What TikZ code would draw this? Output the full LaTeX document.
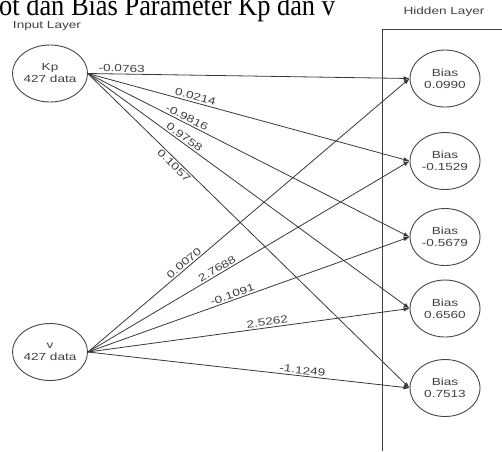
\documentclass[tikz,border=0pt]{standalone}
\usepackage{fontspec}
\setmainfont{Liberation Serif}
\newfontfamily\diagfont[FakeStretch=1.32]{Liberation Sans}
\newfontfamily\headfont[FakeStretch=0.88]{Liberation Serif}
\usetikzlibrary{shapes.geometric,arrows.meta}

\begin{document}
\begin{tikzpicture}[x=1pt,y=-1pt,
  unit/.style={ellipse, draw=black!72, line width=0.9pt, minimum width=70pt,
    minimum height=57pt, inner sep=0pt, align=center,
    font=\diagfont\fontsize{10.3}{12}\selectfont, text=black!75},
  wire/.style={draw=black!78, line width=0.8pt, -{Latex[length=6pt,width=4.5pt]}},
  wlabel/.style={font=\diagfont\fontsize{10.3}{12}\selectfont, text=black!75,
    inner sep=1.5pt, sloped},
  layertitle/.style={font=\diagfont\fontsize{10.3}{12}\selectfont, text=black!75, inner sep=0pt},
  frame/.style={draw=black!75, line width=0.9pt}]
\useasboundingbox (0,0) rectangle (502,451);

% heading line of the page above the figure, cut by the page edge
\node[anchor=base west, inner sep=0pt, font=\headfont\fontsize{30}{34}\selectfont] (heading) at (-1,15.5)
  {ot dan Bias Parameter Kp dan v};

% layer titles and the hidden layer frame
\node[layertitle] (intitle) at (47,26) {Input Layer};
\node[layertitle] (hidtitle) at (444,12) {Hidden Layer};
\draw[frame] (382,451) -- (382,29) -- (502,29);

% input units
\node[unit] (kp) at (50,73.5) {Kp\\427 data};
\node[unit] (v) at (50,352) {v\\427 data};

% hidden units
\node[unit] (b1) at (445,78.5) {Bias\\0.0990};
\node[unit] (b2) at (445,161) {Bias\\-0.1529};
\node[unit] (b3) at (445,237) {Bias\\-0.5679};
\node[unit] (b4) at (445,308.5) {Bias\\0.6560};
\node[unit] (b5) at (445,388) {Bias\\0.7513};

% weights from Kp
\draw[wire] (kp.east) -- node[wlabel, pos=0.105, above] {-0.0763} (b1.west);
\draw[wire] (kp.east) -- node[wlabel, pos=0.33, above] {0.0214} (b2.west);
\draw[wire] (kp.east) -- node[wlabel, pos=0.30, above] {-0.9816} (b3.west);
\draw[wire] (kp.east) -- node[wlabel, pos=0.29, above] {0.9758} (b4.west);
\draw[wire] (kp.east) -- node[wlabel, pos=0.28, below] {0.1057} (b5.west);

% weights from v
\draw[wire] (v.east) -- node[wlabel, pos=0.31, above] {0.0070} (b1.west);
\draw[wire] (v.east) -- node[wlabel, pos=0.41, above] {2.7688} (b2.west);
\draw[wire] (v.east) -- node[wlabel, pos=0.455, above] {-0.1091} (b3.west);
\draw[wire] (v.east) -- node[wlabel, pos=0.56, above] {2.5262} (b4.west);
\draw[wire] (v.east) -- node[wlabel, pos=0.665, above] {-1.1249} (b5.west);
\end{tikzpicture}
\end{document}
